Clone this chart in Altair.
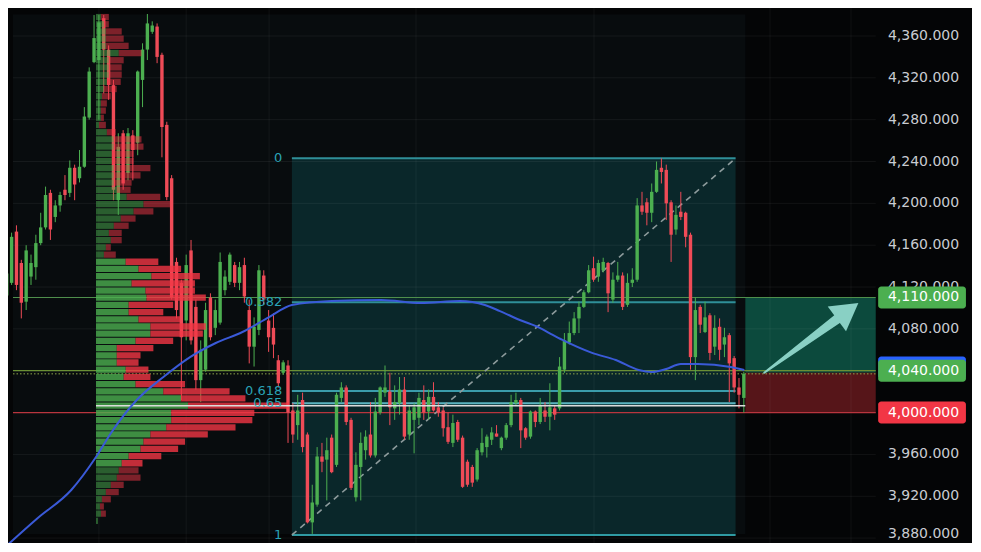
import altair as alt
import pandas as pd
import numpy as np

# ---------------- candles ----------------
opens = [4112,4124,4173,4143,4106,4130,4139,4162,4177,4210,4187,4198,4213,4210,4234,4224,4235,4282,4335,4337,
         4377,4347,4313,4203,4267,4229,4265,4258,4318,4347,4364,4369,4342,4275,4224,4144,4124,4088,4155,4101,
         4031,4041,4110,4081,4086,4117,4125,4141,4124,4141,4098,4063,4079,4131,4088,4081,4050,4038,4045,4002,
         3988,4012,3979,3895,3912,3958,3955,3976,3950,4014,4024,3993,3919,3948,3964,3979,3959,4000,4019,4020,
         4004,4009,4022,3979,3993,3995,4012,4001,4015,4005,4002,3986,3971,3991,3976,3953,3948,3936,3962,3967,
         3974,3980,3966,3976,3988,4009,4012,3985,3977,4001,3991,4002,3996,4004,4004,4041,4067,4076,4090,4101,
         4115,4138,4130,4136,4143,4108,4127,4131,4103,4124,4127,4198,4201,4191,4211,4234,4232,4201,4175,4192,
         4191,4170,4053,4101,4077,4093,4063,4082,4065,4074,4052,4024,4014]
highs = [4138,4172,4179,4146,4160,4151,4170,4191,4216,4213,4203,4211,4227,4241,4237,4251,4292,4330,4380,4380,
         4380,4351,4318,4267,4270,4272,4270,4327,4353,4381,4374,4372,4344,4278,4227,4148,4127,4151,4165,4108,
         4069,4105,4114,4108,4153,4136,4153,4144,4144,4148,4108,4091,4141,4136,4098,4095,4055,4050,4050,4009,
         4017,4019,3981,3931,3967,3971,3976,3979,4019,4029,4026,3995,3962,3981,3983,4010,4014,4025,4045,4038,
         4026,4034,4034,4007,4009,4019,4026,4022,4029,4010,4005,4000,3998,3993,3978,3955,3950,3966,3985,3979,
         3986,3988,3977,3990,4017,4019,4014,3986,4002,4002,4014,4010,4028,4007,4053,4076,4087,4096,4106,4117,
         4141,4149,4146,4148,4144,4134,4144,4134,4133,4138,4205,4211,4205,4219,4240,4243,4237,4203,4198,4211,
         4192,4172,4110,4103,4106,4095,4093,4090,4081,4076,4054,4033,4039]
lows = [4110,4122,4117,4090,4098,4122,4127,4160,4175,4165,4182,4192,4203,4206,4203,4220,4234,4280,4334,4280,
        4305,4299,4203,4189,4213,4222,4222,4246,4292,4337,4362,4334,4244,4203,4108,4090,4012,4069,4065,4022,
        4010,4039,4069,4074,4084,4112,4122,4120,4117,4105,4047,4044,4074,4103,4058,4052,4024,4036,3971,3971,
        3974,3962,3894,3884,3910,3943,3916,3942,3948,4010,3988,3926,3915,3916,3955,3957,3957,3998,4015,3988,
        3993,3998,3974,3974,3961,3988,3993,3993,4001,3996,3977,3970,3967,3972,3928,3929,3929,3934,3959,3957,
        3969,3977,3964,3974,3986,4007,3966,3974,3975,3986,3989,3991,3983,3993,4002,4038,4065,4074,4076,4100,
        4114,4125,4125,4134,4096,4105,4125,4098,4101,4120,4125,4189,4179,4182,4210,4219,4184,4144,4170,4184,
        4158,4041,4031,4076,4076,4050,4055,4050,4053,4010,4019,4004,4000]
closes = [4133,4168,4122,4105,4155,4143,4162,4177,4208,4175,4198,4208,4208,4234,4218,4235,4283,4326,4358,4373,
          4347,4313,4213,4254,4219,4267,4251,4326,4347,4372,4370,4340,4273,4206,4110,4098,4072,4141,4069,4031,
          4060,4098,4072,4098,4144,4130,4151,4124,4139,4111,4063,4082,4136,4108,4072,4065,4028,4048,4000,3979,
          4002,3967,3895,3914,3958,3953,3964,3943,4017,4024,3991,3928,3950,3971,3977,3959,4001,4024,4024,4005,
          4010,4022,3977,4002,4005,4014,4000,4015,4002,4000,3985,3972,3990,3974,3929,3931,3933,3964,3971,3977,
          3981,3977,3976,3988,4010,4012,3983,3976,4001,3991,4007,3996,4005,3998,4044,4069,4076,4090,4101,4115,
          4136,4127,4143,4144,4114,4127,4131,4101,4124,4127,4198,4192,4191,4211,4232,4230,4200,4170,4189,4187,
          4168,4053,4098,4084,4091,4057,4081,4060,4072,4047,4024,4017,4037]

# ---------------- visible-range volume profile (top row first) ----------------
prof_top = 4378.1
prof_step = 6.88
buy_vol = [5,8,10,10,10,23,13,13,13,11,8,6,5,5,5,3,11,18,18,16,16,18,18,18,21,31,48,38,25,18,13,15,10,8,30,
           43,56,36,50,51,33,33,43,55,55,40,21,21,21,30,28,40,68,86,93,76,76,71,55,48,45,33,26,23,21,15,10,6,4,5,2]
sell_vol = [8,5,16,18,23,23,15,13,13,14,13,9,6,5,3,7,9,28,30,22,22,37,27,18,14,34,27,20,15,15,13,11,5,12,33,
            43,49,64,50,60,45,35,42,56,53,38,37,24,22,23,27,50,67,65,102,84,82,70,58,42,38,33,21,20,24,13,13,9,4,5,0]
value_area_rows = (34, 62)

# ---------------- moving average (blue) ----------------
ma_idx = [-0.3, 6.4, 13.3, 18.4, 21.5, 26.8, 32.3, 37.8, 43.1, 48.6, 54.1, 58.8, 67.0, 77.2, 85.4, 93.5,
          98.6, 101.7, 105.8, 109.9, 111.9, 114.6, 120.7, 125.6, 130.3, 133.0, 136.0, 139.0, 142.5, 149.3, 152.1]
ma_val = [3871.5, 3899.2, 3926.0, 3957.5, 3980.5, 4012.0, 4034.0, 4053.0, 4066.5, 4077.0, 4091.3, 4102.8,
          4106.6, 4107.6, 4104.7, 4106.6, 4102.8, 4097.0, 4088.5, 4081.0, 4076.0, 4069.4, 4057.0, 4050.2,
          4040.7, 4038.8, 4041.7, 4046.4, 4046.4, 4043.6, 4040.7]

# ---------------- levels ----------------
fib_hi, fib_lo = 4243.0, 3883.0
fib_ratios = [0, 0.382, 0.618, 0.65, 1]
fib_names = ["0", "0.382", "0.618", "0.65", "1"]
take_profit, entry, stop = 4110.0, 4038.0, 4000.0
alert_level, last_price, poc_level, ma_last = 4040.0, 4037.0, 4006.5, 4043.0
y_ticks = list(range(3880, 4361, 40))

# ---------------- layout (bar-index / price units) ----------------
W, H = 964, 535
XD = [1.286, 198.02]
YD = [3875.3, 4386.75]
RANGE_X = (18.4, 152.3)
RANGE_Y = (3884.0, 4380.5)
FIB_X = (58.8, 150.3)
PLOT_RIGHT = 179.2
TAG_X = (179.7, 197.8)
TAG_TEXT_X = 196.4
FIB_LABEL_X = 56.8
VGRID = [19.0, 37.0, 54.1, 84.4, 121.1, 157.4, 174.1]
IDX_PER_VOL = 1 / 4.9
TAG_HALF = 10.5

UP, DN = "#4caf50", "#ef4b57"

xs = alt.Scale(domain=XD, nice=False, zero=False)
ys = alt.Scale(domain=YD, nice=False, zero=False)


def XQ(f):
    return alt.X(f, type="quantitative", scale=xs, axis=None)


def YQ(f):
    return alt.Y(f, type="quantitative", scale=ys, axis=None)


def rect_layer(df, **mk):
    return alt.Chart(df).mark_rect(clip=True, **mk).encode(x=XQ("x"), x2="x2", y=YQ("y"), y2="y2")


def hrule(df, **mk):
    return alt.Chart(df).mark_rule(clip=True, **mk).encode(x=XQ("x"), x2="x2", y=YQ("y"))


layers = []

# range background + fib fill + position box
layers.append(rect_layer(pd.DataFrame({"x": [XD[0]], "x2": [RANGE_X[1]], "y": [RANGE_Y[0]], "y2": [RANGE_Y[1]]}),
                         color="#080c0e"))
layers.append(rect_layer(pd.DataFrame({"x": [FIB_X[0]], "x2": [FIB_X[1]], "y": [fib_lo], "y2": [fib_hi]}),
                         color="#0a272a"))
layers.append(rect_layer(pd.DataFrame({"x": [RANGE_X[1]], "x2": [PLOT_RIGHT], "y": [entry], "y2": [take_profit]}),
                         color="#0c4a3d"))
layers.append(rect_layer(pd.DataFrame({"x": [RANGE_X[1]], "x2": [PLOT_RIGHT], "y": [stop], "y2": [entry]}),
                         color="#561519"))

# grid
layers.append(hrule(pd.DataFrame({"x": XD[0], "x2": PLOT_RIGHT, "y": y_ticks}), color="#ffffff", opacity=0.06,
                    strokeWidth=1))
layers.append(alt.Chart(pd.DataFrame({"x": VGRID})).mark_rule(color="#ffffff", opacity=0.05, strokeWidth=1,
                                                              clip=True).encode(x=XQ("x")))

# fib lines
fib_prices = [fib_hi - r * (fib_hi - fib_lo) for r in fib_ratios]
fib_cols = ["#2f8f98", "#2f8f98", "#3a9dab", "#5ab4c0", "#2f9aa2"]
fdf = pd.DataFrame({"x": FIB_X[0], "x2": FIB_X[1], "y": fib_prices, "c": fib_cols, "name": fib_names})
layers.append(alt.Chart(fdf).mark_rule(strokeWidth=2, clip=True).encode(
    x=XQ("x"), x2="x2", y=YQ("y"), color=alt.Color("c:N", scale=None)))

# horizontal drawings across the chart
layers.append(hrule(pd.DataFrame({"x": [XD[0]], "x2": [PLOT_RIGHT], "y": [take_profit]}), color="#4f8f4c",
                    strokeWidth=1.2))
layers.append(hrule(pd.DataFrame({"x": [XD[0]], "x2": [PLOT_RIGHT], "y": [alert_level]}), color="#6a8f35",
                    strokeWidth=1.2))
layers.append(hrule(pd.DataFrame({"x": [XD[0]], "x2": [PLOT_RIGHT], "y": [last_price]}), color="#8fa84a",
                    strokeWidth=1, strokeDash=[1.5, 2]))
layers.append(hrule(pd.DataFrame({"x": [XD[0]], "x2": [PLOT_RIGHT], "y": [stop]}), color="#b8353e",
                    strokeWidth=1.2))

# fib trend (dashed diagonal)
layers.append(alt.Chart(pd.DataFrame({"x": [FIB_X[0], FIB_X[1]], "y": [fib_lo, fib_hi]})).mark_line(
    color="#8d9b9c", strokeWidth=1.6, strokeDash=[6, 5], clip=True).encode(x=XQ("x"), y=YQ("y")))

# candles
cdf = pd.DataFrame({"i": np.arange(len(opens)), "open": opens, "high": highs, "low": lows, "close": closes})
cdf["dir"] = np.where(cdf["close"] >= cdf["open"], "up", "down")
cdf["b0"] = np.minimum(cdf["open"], cdf["close"])
cdf["b1"] = np.maximum(np.maximum(cdf["open"], cdf["close"]), cdf["b0"] + 1.2)
ccol = alt.Color("dir:N", scale=alt.Scale(domain=["up", "down"], range=[UP, DN]), legend=None)
layers.append(alt.Chart(cdf).mark_rule(strokeWidth=1, clip=True).encode(x=XQ("i"), y=YQ("low"), y2="high",
                                                                         color=ccol))
layers.append(alt.Chart(cdf).mark_bar(size=3.4, clip=True).encode(x=XQ("i"), y=YQ("b0"), y2="b1", color=ccol))

# volume profile
rows = []
for k, (b, s) in enumerate(zip(buy_vol, sell_vol)):
    c = prof_top - k * prof_step
    bright = value_area_rows[0] <= k <= value_area_rows[1]
    op = 0.8 if bright else 0.5
    x_a = RANGE_X[0]
    x_b = x_a + b * IDX_PER_VOL
    x_c = x_b + s * IDX_PER_VOL
    if b > 0:
        rows.append({"x": x_a, "x2": x_b, "y": c - 3.0, "y2": c + 3.0, "c": "#4caf50", "o": op})
    if s > 0:
        rows.append({"x": x_b, "x2": x_c, "y": c - 3.0, "y2": c + 3.0, "c": "#f23645", "o": op})
pdf = pd.DataFrame(rows)
layers.append(alt.Chart(pdf).mark_rect(clip=True).encode(
    x=XQ("x"), x2="x2", y=YQ("y"), y2="y2",
    color=alt.Color("c:N", scale=None), opacity=alt.Opacity("o:Q", scale=None)))

# POC line
layers.append(hrule(pd.DataFrame({"x": [RANGE_X[0]], "x2": [RANGE_X[1]], "y": [poc_level]}), color="#dcdcdc",
                    strokeWidth=1.6))

# moving average
layers.append(alt.Chart(pd.DataFrame({"x": ma_idx, "y": ma_val})).mark_line(
    color="#3a5ad8", strokeWidth=2, interpolate="monotone", clip=True).encode(x=XQ("x"), y=YQ("y")))

# fib labels
layers.append(alt.Chart(fdf.assign(lx=FIB_LABEL_X)).mark_text(
    align="right", baseline="middle", font="DejaVu Sans", fontSize=13, color="#2aa3b6").encode(
    x=XQ("lx"), y=YQ("y"), text="name:N"))

# arrow (tapered shaft + head)
arrow_x = [156.2, 172.1]
arrow_y = [4038.0, 4092.3]
head_x, head_y, head_angle = 173.4, 4097.2, 53.6
layers.append(alt.Chart(pd.DataFrame({"x": arrow_x, "y": arrow_y, "w": [2.0, 10.0], "o": [0, 1]})).mark_trail(
    color="#89d0c4", clip=True).encode(x=XQ("x"), y=YQ("y"), size=alt.Size("w:Q", scale=None),
                                       order="o:Q"))
layers.append(alt.Chart(pd.DataFrame({"x": [head_x], "y": [head_y]})).mark_point(
    shape="triangle-up", filled=True, size=950, angle=head_angle, color="#89d0c4", opacity=1).encode(
    x=XQ("x"), y=YQ("y")))

# price scale labels (lowest one nudged up so it is not cut by the page edge)
adf = pd.DataFrame({"x": TAG_TEXT_X, "y": y_ticks, "t": [f"{v:,.3f}" for v in y_ticks]})
lbl = dict(align="right", baseline="middle", font="DejaVu Sans", fontSize=14, color="#c9ccd2")
layers.append(alt.Chart(adf[adf["y"] > y_ticks[0]]).mark_text(**lbl).encode(x=XQ("x"), y=YQ("y"), text="t:N"))
layers.append(alt.Chart(adf[adf["y"] == y_ticks[0]]).mark_text(dy=-4, **lbl).encode(
    x=XQ("x"), y=YQ("y"), text="t:N"))

# price tags
tags = pd.DataFrame({
    "v": [ma_last, take_profit, alert_level, stop],
    "c": ["#2962ff", "#4caf50", "#4caf50", "#f23645"],
    "t": ["", f"{take_profit:,.3f}", f"{alert_level:,.3f}", f"{stop:,.3f}"],
})
tags["x"], tags["x2"] = TAG_X
tags["y"] = tags["v"] - TAG_HALF
tags["y2"] = tags["v"] + TAG_HALF
tags["tx"] = TAG_TEXT_X
layers.append(alt.Chart(tags).mark_rect(cornerRadius=3).encode(
    x=XQ("x"), x2="x2", y=YQ("y"), y2="y2", color=alt.Color("c:N", scale=None)))
layers.append(alt.Chart(tags[tags["t"] != ""]).mark_text(
    align="right", baseline="middle", font="DejaVu Sans", fontSize=14, color="#ffffff").encode(
    x=XQ("tx"), y=YQ("v"), text="t:N"))

chart = alt.layer(*layers).properties(
    width=W, height=H, padding=0, background="#040506",
    autosize=alt.AutoSizeParams(type="none"),
).configure_view(stroke=None)

chart.save("out.html", embed_options={"renderer": "svg", "actions": False})
